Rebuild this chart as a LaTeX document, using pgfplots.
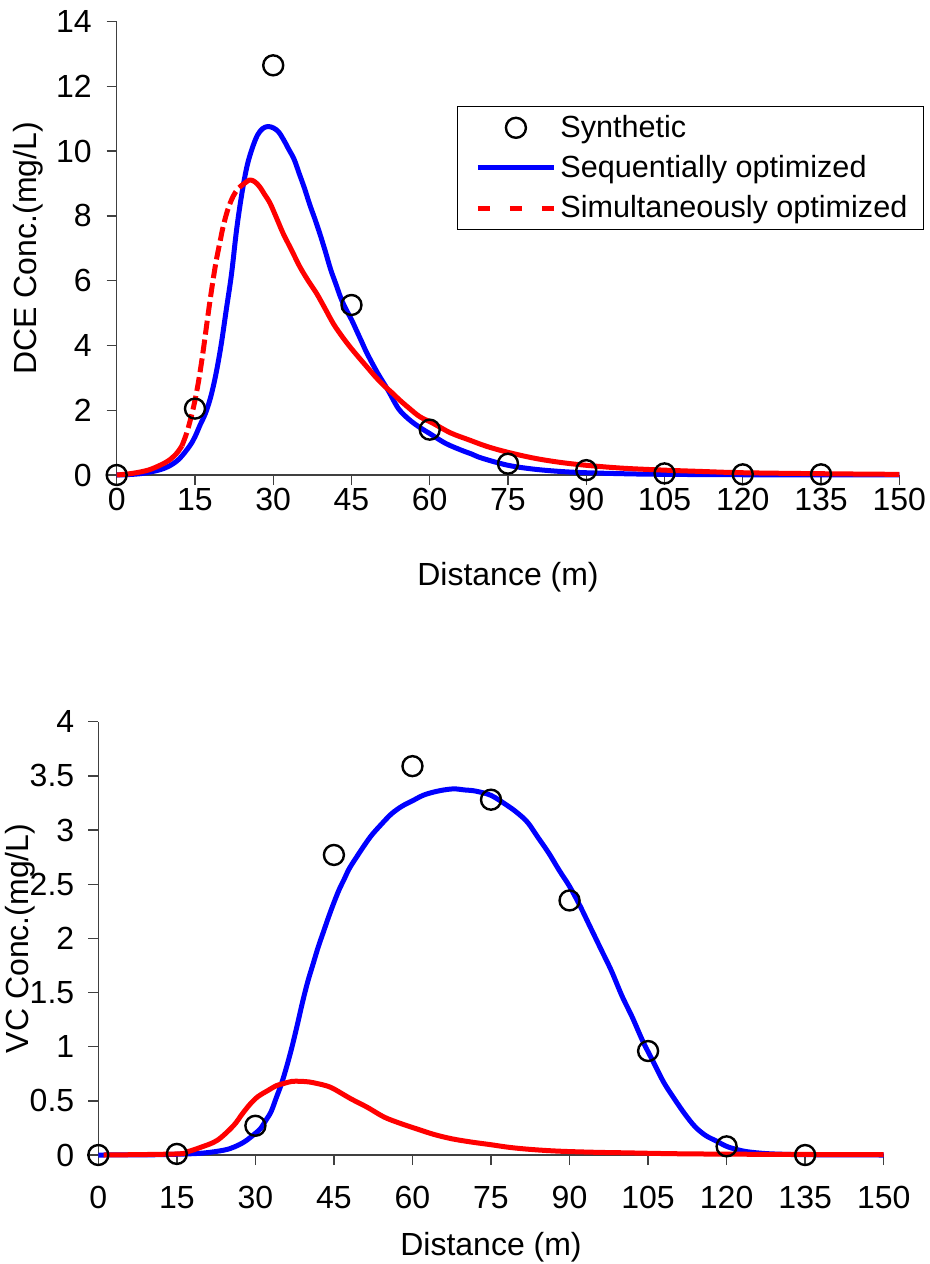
\documentclass[border=0pt]{standalone}
\usepackage{fontspec}
\setmainfont{Liberation Sans}
\usepackage{pgfplots}
\pgfplotsset{compat=1.18}

\begin{document}
\begin{tikzpicture}
\path[use as bounding box] (0,0) rectangle (465pt,-632pt);
\pgfplotsset{
 myaxis/.style={
  scale only axis,
  axis x line*=bottom, axis y line*=left,
  axis line style={black!75, line width=0.7pt},
  tick style={black!75, line width=0.7pt},
  tick align=outside, major tick length=5pt,
  xmin=0, xmax=150, xtick={0,15,...,150},
  ymin=0,
  /pgf/number format/assume math mode=true,
  tick label style={font=\fontsize{16}{19}\selectfont},
  label style={font=\fontsize{16}{19}\selectfont},
  clip=false,
 },
 blueline/.style={blue, line width=2.5pt, line join=round, smooth, tension=0.55},
 redline/.style={red, line width=2.5pt, line join=round, smooth, tension=0.55},
 synth/.style={only marks, mark=o, mark size=5pt, mark options={black, line width=1.2pt}},
}
% ---------------- top plot ----------------
\begin{axis}[myaxis,
  at={(58.35pt,-237.5pt)}, anchor=south west,
  width=391.3pt, height=226.7pt,
  ymax=14, ytick={0,2,...,14},
  xticklabel style={yshift=2pt},
  yticklabel style={xshift=-4pt},
  xlabel={Distance (m)},
  ylabel={DCE Conc.(mg/L)},
  xlabel style={at={(axis description cs:0.5,-0.2250)}, anchor=center},
  ylabel style={at={(axis description cs:-0.113,0.5)}, anchor=center},
  legend style={at={(0.4345,0.8147)}, anchor=north west, draw=black, line width=0.6pt,
     font=\fontsize{15.3}{18}\selectfont, inner xsep=6pt, inner ysep=2.5pt, row sep=3.5pt,
     /tikz/every even column/.append style={column sep=3pt}},
  legend cell align=left,
]
\addlegendimage{legend image code/.code={\draw[black,line width=1.2pt] (23pt,0pt) circle (5pt); \path (0pt,0pt) (42pt,0pt);}}
\addlegendentry{Synthetic}
\addlegendimage{legend image code/.code={\draw[blue,line width=2.5pt] (4pt,0pt) -- (42pt,0pt); \path (0pt,0pt);}}
\addlegendentry{Sequentially optimized}
\addlegendimage{legend image code/.code={\draw[red,line width=2.5pt,dash pattern=on 6pt off 10pt] (4pt,0pt) -- (42pt,0pt); \path (0pt,0pt);}}
\addlegendentry{Simultaneously optimized}

\addplot[blueline, forget plot] coordinates {
(0,0) (2,0.01) (5,0.05) (8,0.15) (10,0.27) (12,0.5) (14,0.9) (15,1.18) (16,1.55) (17,1.9)
(18,2.4) (19,3.1) (20,4.0) (21,5.1) (22,6.2) (23,7.6) (24,8.7) (25,9.55) (26,10.1) (27,10.5)
(28,10.7) (29,10.76) (30,10.72) (31,10.6) (32,10.35) (33,10.05) (34,9.75) (35,9.3) (36,8.85)
(37,8.35) (38,7.9) (39,7.42) (40,6.9) (41,6.35) (42,5.9) (43,5.45) (44,5.1) (45,4.8) (46,4.45)
(47,4.1) (48,3.75) (50,3.15) (52,2.62) (54,2.05) (56,1.72) (58,1.48) (60,1.28) (63,0.98)
(66,0.77) (68,0.65) (70,0.52) (75,0.3) (80,0.18) (85,0.11) (90,0.07) (100,0.03) (110,0.015)
(120,0.008) (135,0.003) (150,0.001)
};
\addplot[redline, forget plot] coordinates {
(0,0) (3,0.05) (6,0.15) (8.3,0.3) (10,0.45) (11.5,0.67) (12.5,0.9)
};
\addplot[redline, dash pattern=on 7pt off 2.5pt, forget plot] coordinates {
(12.5,0.9) (13.4,1.29) (14.2,1.75) (15,2.3) (15.8,3.0) (16.6,3.86) (17.3,4.7) (17.9,5.4)
(18.5,6.05) (19.1,6.64) (19.8,7.2) (20.4,7.67) (21.3,8.2) (22.3,8.6) (23.3,8.85) (24.3,8.98)
};
\addplot[redline, forget plot] coordinates {
(24.3,8.98) (25.5,9.11) (26.5,9.05) (27.4,8.9) (28.4,8.65) (29.4,8.39) (30.6,7.95) (31.9,7.46)
(33.5,6.95) (35.1,6.43) (36.7,6.0) (38.3,5.61) (39.9,5.15) (41.5,4.68) (43.1,4.3) (44.7,3.96)
(46.3,3.65) (47.9,3.35) (49.5,3.05) (51.1,2.78) (52.7,2.55) (54.2,2.32) (56,2.07) (58.1,1.8)
(60.6,1.6) (64,1.3) (67.6,1.08) (71,0.88) (75,0.7) (80,0.52) (85,0.39) (90,0.3) (97,0.21)
(105,0.15) (112,0.11) (120,0.07) (135,0.04) (150,0.02)
};
\addplot[synth, forget plot] coordinates {
(0,0) (15,2.05) (30,12.65) (45,5.25) (60,1.4) (75,0.35) (90,0.15) (105,0.05) (120,0.02) (135,0.02)
};
\end{axis}
% ---------------- bottom plot ----------------
\begin{axis}[myaxis,
  at={(49.15pt,-577.5pt)}, anchor=south west,
  width=392.7pt, height=216.65pt,
  ymax=4, ytick={0,0.5,...,4},
  xticklabel style={yshift=-7pt},
  yticklabel style={xshift=-3.5pt},
  xlabel={Distance (m)},
  ylabel={VC Conc.(mg/L)},
  xlabel style={at={(axis description cs:0.5,-0.2123)}, anchor=center},
  ylabel style={at={(axis description cs:-0.1000,0.5)}, anchor=center},
]
\addplot[blueline] coordinates {
(0,0) (10,0.002) (15,0.007) (20,0.018) (24,0.045) (26,0.075) (28,0.125) (30,0.2) (31,0.245)
(32,0.32) (33,0.4) (34,0.53) (35,0.66) (36,0.82) (37,1.0) (38,1.2) (39,1.41) (40,1.6) (41,1.76)
(42,1.92) (43,2.06) (44,2.2) (45,2.33) (46,2.45) (47,2.55) (48,2.65) (50,2.8) (52,2.94) (54,3.05)
(56,3.15) (58,3.22) (60,3.27) (62,3.32) (64,3.35) (66,3.37) (68,3.38) (70,3.37) (72,3.36)
(75,3.32) (78,3.23) (80,3.16) (82,3.07) (84,2.93) (86,2.79) (88,2.63) (90,2.48) (92,2.3)
(94,2.1) (96,1.9) (98,1.7) (100,1.47) (102,1.27) (104,1.05) (106,0.86) (108,0.67) (110,0.52)
(112,0.38) (114,0.26) (116,0.18) (118,0.13) (120,0.08) (122,0.05) (124,0.03) (127,0.015)
(130,0.008) (135,0.003) (150,0)
};
\addplot[redline] coordinates {
(1,0) (15,0.01) (17,0.03) (19.5,0.07) (22.7,0.135) (25.8,0.27) (27.5,0.38) (29,0.47) (30.5,0.54)
(32.2,0.59) (34,0.64) (35.4,0.66) (37,0.68) (38.6,0.68) (40.2,0.675) (41.8,0.66) (43.5,0.64)
(45,0.61) (48.2,0.52) (51.4,0.44) (54.6,0.35) (57.8,0.29) (60.9,0.24) (64.1,0.19) (67.5,0.15)
(71.2,0.12) (75,0.095) (78.6,0.07) (83,0.05) (88.2,0.035) (95,0.025) (100.9,0.02) (110,0.012)
(120,0.008) (135,0.005) (150,0.003)
};
\addplot[synth] coordinates {
(0,0) (15,0.01) (30,0.27) (45,2.77) (60,3.59) (75,3.28) (90,2.35) (105,0.96) (120,0.08) (135,0)
};
\end{axis}
\end{tikzpicture}
\end{document}
